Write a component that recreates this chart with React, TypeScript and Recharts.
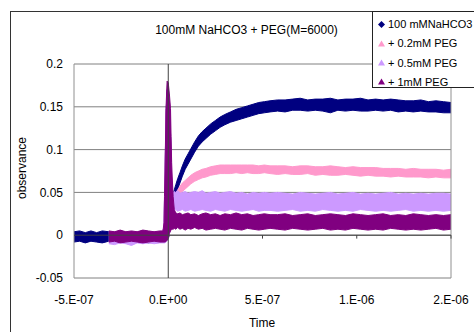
import React from "react";
import {
  ComposedChart,
  Area,
  XAxis,
  YAxis,
  CartesianGrid,
  ReferenceLine,
} from "recharts";

// time in ns
const times = [
  -500, -470, -440, -410, -380, -350, -315, -285, -255, -225, -195, -165, -135, -105, -75, -45, -28,
  -22, -20, -17, -12, -6, 0, 6, 12, 15, 18, 21,
  26, 32, 40, 50, 62, 75, 90, 105, 120, 140, 160, 180, 200, 225, 250, 275, 300, 330, 360, 390, 420, 450, 480, 510, 540,
  580, 620, 660, 700, 740, 780, 820, 860, 900, 940, 980, 1020, 1060, 1100, 1140, 1180, 1220, 1260, 1300, 1340, 1380, 1420, 1460, 1500,
];

const navyLo = [
  -0.008, -0.007, -0.009, -0.007, -0.008, -0.009, -0.007, -0.008, -0.008, -0.009, -0.008, -0.007, -0.008, -0.009, -0.008, -0.008, -0.008,
  -0.008, -0.008, -0.008, -0.008, -0.006, -0.004, 0.0, 0.018, 0.026, 0.03, 0.032,
  0.036, 0.041, 0.047, 0.054, 0.061, 0.069, 0.077, 0.083, 0.089, 0.097, 0.104, 0.109, 0.113, 0.118, 0.122, 0.126, 0.129, 0.132, 0.134, 0.136, 0.138, 0.14, 0.142, 0.143, 0.144,
  0.145, 0.144, 0.146, 0.146, 0.145, 0.146, 0.145, 0.143, 0.146, 0.145, 0.146, 0.145, 0.145, 0.146, 0.145, 0.146, 0.144, 0.145, 0.144, 0.145, 0.144, 0.144, 0.143, 0.143,
];
const navyHi = [
  0.004, 0.005, 0.003, 0.005, 0.003, 0.005, 0.004, 0.004, 0.004, 0.004, 0.004, 0.004, 0.004, 0.004, 0.004, 0.004, 0.004,
  0.012, 0.04, 0.07, 0.14, 0.17, 0.17, 0.15, 0.12, 0.09, 0.06, 0.048,
  0.048, 0.053, 0.059, 0.066, 0.073, 0.081, 0.089, 0.095, 0.101, 0.109, 0.116, 0.121, 0.125, 0.13, 0.134, 0.138, 0.141, 0.144, 0.147, 0.149, 0.151, 0.153, 0.155, 0.156, 0.157,
  0.158, 0.158, 0.159, 0.16, 0.158, 0.159, 0.159, 0.16, 0.158, 0.159, 0.159, 0.16, 0.158, 0.159, 0.158, 0.159, 0.158, 0.157, 0.157, 0.158, 0.156, 0.157, 0.156, 0.155,
];

const pinkLo = [
  null, null, null, null, null, null,
  -0.008, -0.008, -0.008, -0.008, -0.008, -0.008, -0.008, -0.008, -0.008, -0.008, -0.008,
  -0.008, -0.008, -0.008, -0.008, -0.006, -0.004, 0.002, 0.015, 0.022, 0.026, 0.028,
  0.031, 0.035, 0.039, 0.043, 0.047, 0.051, 0.054, 0.057, 0.06, 0.063, 0.065, 0.067, 0.068, 0.07, 0.071, 0.072, 0.072, 0.072, 0.073, 0.072, 0.073, 0.072, 0.072, 0.073, 0.072,
  0.071, 0.072, 0.071, 0.071, 0.072, 0.07, 0.071, 0.07, 0.07, 0.071, 0.07, 0.069, 0.07, 0.069, 0.069, 0.068, 0.069, 0.068, 0.068, 0.068, 0.067, 0.068, 0.067, 0.067,
];
const pinkHi = [
  null, null, null, null, null, null,
  0.004, 0.004, 0.004, 0.004, 0.004, 0.004, 0.004, 0.004, 0.004, 0.004, 0.004,
  0.012, 0.04, 0.07, 0.14, 0.16, 0.16, 0.14, 0.11, 0.08, 0.06, 0.045,
  0.041, 0.045, 0.049, 0.053, 0.057, 0.061, 0.064, 0.067, 0.07, 0.073, 0.075, 0.077, 0.078, 0.08, 0.081, 0.082, 0.082, 0.082, 0.082, 0.082, 0.082, 0.082, 0.081, 0.082, 0.081,
  0.081, 0.081, 0.08, 0.081, 0.081, 0.08, 0.08, 0.081, 0.08, 0.079, 0.08, 0.079, 0.079, 0.079, 0.078, 0.078, 0.078, 0.077, 0.078, 0.077, 0.077, 0.077, 0.076, 0.077,
];

const lavLo = [
  null, null, null, null, null, null,
  -0.01, -0.011, -0.009, -0.01, -0.012, -0.009, -0.01, -0.009, -0.01, -0.009, -0.009,
  -0.009, -0.009, -0.009, -0.008, -0.006, -0.003, 0.005, 0.015, 0.02, 0.024, 0.026,
  0.028, 0.029, 0.03, 0.028, 0.029, 0.03, 0.028, 0.029, 0.03, 0.028, 0.029, 0.03, 0.029, 0.028, 0.03, 0.029, 0.028, 0.03, 0.029, 0.028, 0.029, 0.03, 0.028, 0.029, 0.029,
  0.028, 0.029, 0.03, 0.028, 0.029, 0.028, 0.03, 0.029, 0.028, 0.029, 0.028, 0.03, 0.029, 0.028, 0.029, 0.028, 0.029, 0.03, 0.028, 0.029, 0.028, 0.029, 0.028, 0.029,
];
const lavHi = [
  null, null, null, null, null, null,
  0.003, 0.002, 0.003, 0.003, 0.002, 0.003, 0.003, 0.002, 0.003, 0.003, 0.003,
  0.012, 0.04, 0.07, 0.14, 0.165, 0.165, 0.15, 0.12, 0.09, 0.065, 0.05,
  0.05, 0.051, 0.05, 0.052, 0.049, 0.05, 0.051, 0.049, 0.05, 0.051, 0.05, 0.052, 0.049, 0.05, 0.051, 0.049, 0.05, 0.051, 0.049, 0.05, 0.048, 0.05, 0.049, 0.05, 0.049,
  0.05, 0.049, 0.048, 0.05, 0.049, 0.048, 0.049, 0.05, 0.048, 0.049, 0.05, 0.048, 0.049, 0.048, 0.049, 0.05, 0.048, 0.049, 0.048, 0.049, 0.048, 0.049, 0.049, 0.048,
];

const purpleLo = [
  null, null, null, null, null, null,
  -0.008, -0.007, -0.009, -0.008, -0.007, -0.008, -0.009, -0.008, -0.007, -0.008, -0.008,
  -0.008, -0.008, -0.008, -0.007, -0.006, -0.003, 0.002, 0.005, 0.006, 0.007, 0.007,
  0.007, 0.008, 0.007, 0.009, 0.007, 0.008, 0.006, 0.008, 0.007, 0.009, 0.007, 0.008, 0.006, 0.007, 0.008, 0.007, 0.006, 0.008, 0.007, 0.006, 0.008, 0.007, 0.006, 0.007, 0.008,
  0.007, 0.006, 0.008, 0.007, 0.006, 0.007, 0.008, 0.006, 0.007, 0.006, 0.008, 0.007, 0.006, 0.007, 0.006, 0.008, 0.007, 0.006, 0.007, 0.006, 0.007, 0.008, 0.006, 0.007,
];
const purpleHi = [
  null, null, null, null, null, null,
  0.005, 0.004, 0.006, 0.004, 0.005, 0.004, 0.006, 0.005, 0.004, 0.005, 0.005,
  0.015, 0.045, 0.075, 0.148, 0.18, 0.178, 0.165, 0.148, 0.115, 0.085, 0.068,
  0.045, 0.03, 0.026, 0.025, 0.026, 0.024, 0.025, 0.026, 0.024, 0.025, 0.023, 0.025, 0.026, 0.024, 0.025, 0.023, 0.025, 0.024, 0.026, 0.024, 0.025, 0.023, 0.024, 0.025, 0.024,
  0.024, 0.025, 0.023, 0.024, 0.025, 0.023, 0.024, 0.025, 0.024, 0.023, 0.025, 0.024, 0.023, 0.024, 0.025, 0.023, 0.024, 0.023, 0.025, 0.024, 0.023, 0.024, 0.023, 0.024,
];

const seriesNames = ["100 mMNaHCO3", "+ 0.2mM PEG", "+ 0.5mM PEG", "+ 1mM PEG"];
const seriesColors = ["#000080", "#FF99CC", "#CC99FF", "#800080"];

const xTicks = [-500, 0, 500, 1000, 1500];
const xTickLabels = ["-5.E-07", "0.E+00", "5.E-07", "1.E-06", "2.E-06"];
const yTicks = [-0.05, 0, 0.05, 0.1, 0.15, 0.2];
const yTickLabels = ["-0.05", "0", "0.05", "0.1", "0.15", "0.2"];
const xMinorTicks = [500, 1000, 1500];

const titleText = "100mM NaHCO3 + PEG(M=6000)";
const xTitle = "Time";
const yTitle = "observance";

const pair = (lo: (number | null)[], hi: (number | null)[], i: number) =>
  lo[i] == null || hi[i] == null ? null : [lo[i] as number, hi[i] as number];

const rows = times.map((t, i) => ({
  t,
  s0: pair(navyLo, navyHi, i),
  s1: pair(pinkLo, pinkHi, i),
  s2: pair(lavLo, lavHi, i),
  s3: pair(purpleLo, purpleHi, i),
}));

const FONT = "'Liberation Sans', Arial, sans-serif";

function Marker({ kind, color }: { kind: number; color: string }) {
  if (kind === 0) {
    return (
      <svg width={7} height={7} style={{ display: "block" }}>
        <polygon points="3.5,0 7,3.5 3.5,7 0,3.5" fill={color} />
      </svg>
    );
  }
  return (
    <svg width={7} height={7} style={{ display: "block" }}>
      <polygon points="3.5,0.5 7,6.5 0,6.5" fill={color} />
    </svg>
  );
}

export default function App() {
  return (
    <div
      style={{
        position: "absolute",
        left: 0,
        top: 0,
        width: 474,
        height: 332,
        overflow: "hidden",
        background: "#fff",
        fontFamily: FONT,
      }}
    >
      <div
        style={{
          position: "absolute",
          left: 10,
          top: 11,
          width: 600,
          height: 400,
          borderLeft: "1px solid #333",
          borderTop: "1px solid #333",
        }}
      />
      <div style={{ position: "absolute", left: 0, top: 0 }}>
        <ComposedChart
          width={474}
          height={332}
          data={rows}
          margin={{ top: 64, right: 23, bottom: 24, left: 14 }}
        >
          <CartesianGrid vertical={false} stroke="#808080" strokeWidth={1} />
          <ReferenceLine x={-500} stroke="#909090" />
          <ReferenceLine x={1500} stroke="#909090" />
          <ReferenceLine x={0} stroke="#404040" />
          <ReferenceLine y={0} stroke="#404040" />
          {xMinorTicks.map((v) => (
            <ReferenceLine
              key={v}
              stroke="#404040"
              segment={[
                { x: v, y: 0 },
                { x: v, y: -0.004 },
              ]}
            />
          ))}
          <XAxis
            dataKey="t"
            type="number"
            domain={[-500, 1500]}
            ticks={xTicks}
            tickFormatter={(v: number) => xTickLabels[xTicks.indexOf(v)] ?? ""}
            axisLine={false}
            tickLine={false}
            tickSize={0}
            tickMargin={17}
            height={30}
            interval={0}
            tick={{ fill: "#000", fontSize: 12, fontFamily: FONT }}
          />
          <YAxis
            type="number"
            domain={[-0.05, 0.2]}
            ticks={yTicks}
            tickFormatter={(v: number) => yTickLabels[yTicks.indexOf(v)] ?? ""}
            axisLine={false}
            tickLine={false}
            tickSize={0}
            tickMargin={11}
            width={60}
            interval={0}
            tick={{ fill: "#000", fontSize: 12, fontFamily: FONT }}
          />
          {["s0", "s1", "s2", "s3"].map((k, i) => (
            <Area
              key={k}
              dataKey={k}
              name={seriesNames[i]}
              type="linear"
              stroke={seriesColors[i]}
              strokeWidth={1}
              fill={seriesColors[i]}
              fillOpacity={1}
              dot={false}
              activeDot={false}
              isAnimationActive={false}
            />
          ))}
        </ComposedChart>
      </div>
      <svg
        width={474}
        height={332}
        style={{ position: "absolute", left: 0, top: 0, pointerEvents: "none" }}
      >
        <text x={246.5} y={34} textAnchor="middle" fontSize={12} fontFamily={FONT} fill="#000">
          {titleText}
        </text>
        <text x={262} y={327} textAnchor="middle" fontSize={12} fontFamily={FONT} fill="#000">
          {xTitle}
        </text>
        <text
          x={26}
          y={168}
          textAnchor="middle"
          fontSize={12}
          fontFamily={FONT}
          fill="#000"
          transform="rotate(-90 26 168)"
        >
          {yTitle}
        </text>
      </svg>
      <div
        style={{
          position: "absolute",
          left: 372,
          top: 11,
          width: 140,
          height: 77,
          border: "1px solid #222",
          background: "#fff",
          boxSizing: "border-box",
        }}
      >
        {seriesNames.map((n, i) => (
          <div
            key={n}
            style={{
              position: "absolute",
              left: 5,
              top: 3 + i * 19.3,
              height: 18,
              display: "flex",
              alignItems: "center",
              whiteSpace: "nowrap",
              fontSize: 11,
              color: "#000",
            }}
          >
            <Marker kind={i === 0 ? 0 : 1} color={seriesColors[i]} />
            <span style={{ marginLeft: 3 }}>{n}</span>
          </div>
        ))}
      </div>
    </div>
  );
}
